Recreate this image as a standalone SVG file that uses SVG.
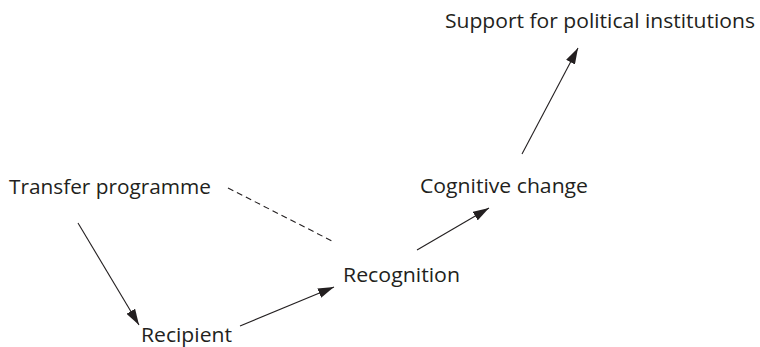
<svg xmlns="http://www.w3.org/2000/svg" width="760" height="347" viewBox="0 0 760 347">
<style>
text{font-family:"Open Sans","Noto Sans","Liberation Sans",sans-serif;font-size:20px;fill:#231f20}
.c{stroke:#231f20;stroke-width:1.1;fill:none}
.d{stroke-dasharray:6,4}
</style>
<defs>
<marker id="ah" viewBox="0 0 16 10" refX="16" refY="5" markerWidth="16" markerHeight="10" markerUnits="userSpaceOnUse" orient="auto">
<path d="M0,0 L16,5 L0,10 z" fill="#231f20"/>
</marker>
</defs>
<rect width="760" height="347" fill="#fff"/>
<g id="connectors">
<line class="c" x1="78" y1="223" x2="139" y2="325" marker-end="url(#ah)"/>
<line class="c" x1="240" y1="326" x2="334" y2="287" marker-end="url(#ah)"/>
<line class="c d" x1="228" y1="188" x2="334" y2="242"/>
<line class="c" x1="417" y1="250" x2="489" y2="208" marker-end="url(#ah)"/>
<line class="c" x1="522" y1="154" x2="578" y2="48" marker-end="url(#ah)"/>
</g>
<g id="support"><text x="445" y="28" textLength="310" lengthAdjust="spacingAndGlyphs">Support for political institutions</text></g>
<g id="transfer"><text x="9" y="194" textLength="202" lengthAdjust="spacingAndGlyphs">Transfer programme</text></g>
<g id="cognitive"><text x="420" y="193" textLength="168" lengthAdjust="spacingAndGlyphs">Cognitive change</text></g>
<g id="recognition"><text x="343" y="282" textLength="117" lengthAdjust="spacingAndGlyphs">Recognition</text></g>
<g id="recipient"><text x="141" y="342" textLength="91" lengthAdjust="spacingAndGlyphs">Recipient</text></g>
</svg>
